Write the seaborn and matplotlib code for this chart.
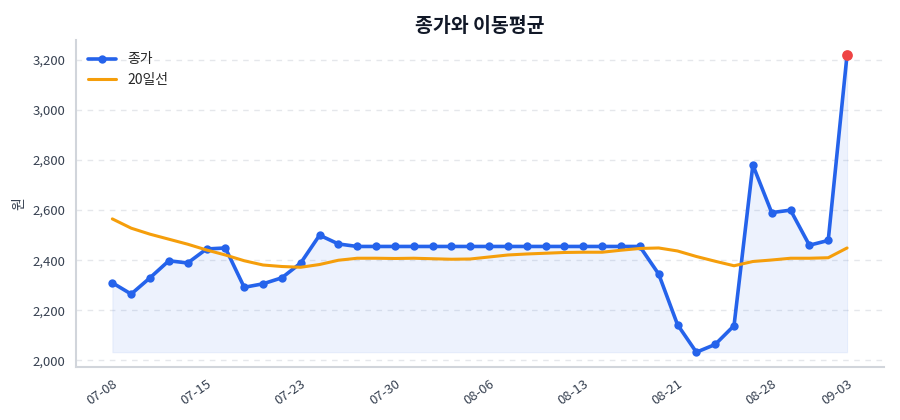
import pandas as pd
import matplotlib.pyplot as plt
import seaborn as sns
from matplotlib.ticker import FuncFormatter

# closing prices, one per trading day (40 days)
close = [2310, 2265, 2330, 2398, 2389, 2445, 2449, 2292, 2306, 2330,
         2389, 2500, 2465, 2455, 2455, 2455, 2455, 2455, 2455, 2455,
         2455, 2455, 2455, 2455, 2455, 2455, 2455, 2455, 2455, 2345,
         2143, 2033, 2064, 2139, 2780, 2590, 2600, 2460, 2479, 3220]

# 20-day moving average
ma20 = [2565, 2528, 2504, 2484, 2464, 2441, 2421, 2398, 2381, 2375,
        2372, 2383, 2400, 2408, 2408, 2407, 2408, 2406, 2404, 2405,
        2413, 2421, 2425, 2428, 2431, 2432, 2432, 2440, 2447, 2449,
        2437, 2415, 2396, 2378, 2395, 2401, 2408, 2408, 2410, 2449]

tick_pos = [0, 5, 10, 15, 20, 25, 30, 35, 39]
tick_labels = ['07-08', '07-15', '07-23', '07-30', '08-06',
               '08-13', '08-21', '08-28', '09-03']

df = pd.DataFrame({'idx': range(len(close)), 'close': close, 'ma20': ma20})

sns.set_style('white')
plt.rcParams['font.family'] = ['Noto Sans CJK KR', 'DejaVu Sans']

fig, ax = plt.subplots(figsize=(9, 4.2), dpi=100)
fig.subplots_adjust(left=0.084, right=0.982, top=0.905, bottom=0.126)

blue = '#2563eb'
orange = '#f59e0b'

ax.fill_between(df['idx'], df['close'], min(close), facecolor=blue, alpha=0.08,
                edgecolor=blue, lw=0.8)
sns.lineplot(data=df, x='idx', y='close', ax=ax, color=blue, lw=2.6,
             marker='o', markersize=6, markeredgewidth=0, label='종가')
sns.lineplot(data=df, x='idx', y='ma20', ax=ax, color=orange, lw=2.2,
             label='20일선')
ax.scatter([df['idx'].iloc[-1]], [close[-1]], color='#ef4444', s=45, zorder=5)

ax.set_xticks(tick_pos)
ax.set_xticklabels(tick_labels, rotation=35, ha='right', rotation_mode='anchor')
ax.yaxis.set_major_formatter(FuncFormatter(lambda v, p: f'{v:,.0f}'))
ax.set_yticks(range(2000, 3201, 200))
ax.margins(x=0.05, y=0.05)

ax.set_title('종가와 이동평균', fontsize=14, fontweight='bold', color='#111827', pad=6)
ax.set_xlabel('')
ax.set_ylabel('원', color='#374151', fontsize=10)
ax.tick_params(axis='both', colors='#374151', labelsize=9.5, length=4, width=1)

ax.grid(axis='y', linestyle=(0, (4, 4)), color='#e5e7eb', lw=1)
ax.set_axisbelow(True)
for s in ['top', 'right']:
    ax.spines[s].set_visible(False)
for s in ['left', 'bottom']:
    ax.spines[s].set_color('#d1d5db')
    ax.spines[s].set_linewidth(1.5)

ax.legend(loc='upper left', frameon=False, fontsize=10)

plt.savefig('out.png', dpi=100)
